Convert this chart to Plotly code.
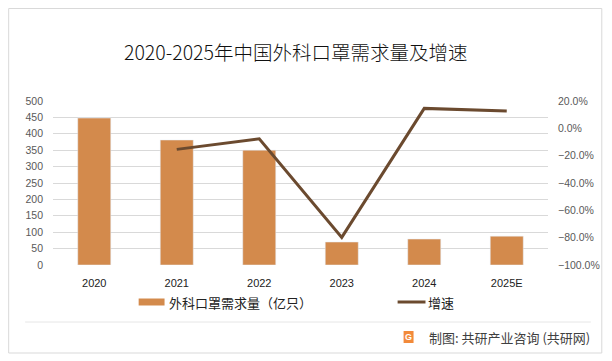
import plotly.graph_objects as go

years = ["2020", "2021", "2022", "2023", "2024", "2025E"]
demand = [448, 381, 350, 70, 79, 88]            # 亿只
growth = [None, -0.154, -0.076, -0.798, 0.146, 0.126]
left_ticks = [0, 50, 100, 150, 200, 250, 300, 350, 400, 450, 500]
right_ticks = [-1.0, -0.8, -0.6, -0.4, -0.2, 0.0, 0.2]

title_text = "2020-2025年中国外科口罩需求量及增速"
bar_name = "外科口罩需求量（亿只）"
line_name = "增速"
credit_text = "制图: 共研产业咨询 (共研网)"

BAR_C = "#D38A4C"
LINE_C = "#6B4A2F"
CJK = "Noto Sans CJK SC"
LAT = "Liberation Sans"

# page body has an 8px margin; work in page pixels and convert
OFF = 8
W, H = 612 - OFF, 361 - OFF
L, R, T, B = 53, 550, 101, 265  # plot area in page pixels


def px(x):
    return (x - L) / (R - L)


def py(y):
    return (B - y) / (B - T)


fig = go.Figure()
fig.add_trace(go.Bar(x=years, y=demand, name=bar_name, marker_color=BAR_C,
                     showlegend=False))
fig.add_trace(go.Scatter(x=years, y=growth, name=line_name, yaxis="y2",
                         mode="lines", line=dict(color=LINE_C, width=3),
                         showlegend=False))

shapes = [
    dict(type="rect", xref="paper", yref="paper", x0=px(8.5), x1=px(604),
         y0=py(353), y1=py(8.5), line=dict(color="#D9D9D9", width=1),
         fillcolor="rgba(0,0,0,0)", layer="below"),
    dict(type="line", xref="paper", yref="paper", x0=px(25), x1=px(593),
         y0=py(322), y1=py(322), line=dict(color="#E6E6E6", width=1)),
    dict(type="rect", xref="paper", yref="paper", x0=px(139), x1=px(165),
         y0=py(305.5), y1=py(298.5), line=dict(width=0), fillcolor=BAR_C),
    dict(type="line", xref="paper", yref="paper", x0=px(399), x1=px(427),
         y0=py(302), y1=py(302), line=dict(color=LINE_C, width=3)),
    dict(type="rect", xref="paper", yref="paper", x0=px(405), x1=px(415),
         y0=py(343), y1=py(331), line=dict(width=0), fillcolor="#F28A3A"),
]

annotations = [
    dict(text=title_text, xref="paper", yref="paper", x=px(296), y=py(52),
         showarrow=False, xanchor="center", yanchor="middle",
         font=dict(family=CJK, size=19.5, color="#111111", weight=300)),
    dict(text=bar_name, xref="paper", yref="paper", x=px(167), y=py(302),
         showarrow=False, xanchor="left", yanchor="middle",
         font=dict(family=CJK, size=13, color="#222222")),
    dict(text=line_name, xref="paper", yref="paper", x=px(428), y=py(302),
         showarrow=False, xanchor="left", yanchor="middle",
         font=dict(family=CJK, size=13, color="#222222")),
    dict(text=credit_text, xref="paper", yref="paper", x=px(594), y=py(337),
         showarrow=False, xanchor="right", yanchor="middle",
         font=dict(family=CJK, size=13, color="#404040")),
    dict(text="<b>G</b>", xref="paper", yref="paper", x=px(410), y=py(337),
         showarrow=False, xanchor="center", yanchor="middle",
         font=dict(family=LAT, size=9, color="#FFFFFF")),
]

fig.update_layout(
    width=W, height=H,
    margin=dict(l=L - OFF, r=W - (R - OFF), t=T - OFF, b=H - (B - OFF), pad=0),
    paper_bgcolor="white", plot_bgcolor="white",
    bargap=0.6,
    shapes=shapes, annotations=annotations,
    xaxis=dict(type="category", showgrid=False, showline=False, zeroline=False,
               ticks="", tickfont=dict(family=LAT, size=11, color="#222222"),
               ticklabelstandoff=10),
    yaxis=dict(range=[0, 500], tickvals=left_ticks, showgrid=True,
               gridcolor="#D9D9D9", gridwidth=1, zeroline=False,
               showline=False, ticks="",
               tickfont=dict(family=LAT, size=10.5, color="#595959"),
               ticklabelstandoff=9),
    yaxis2=dict(range=[-1.0, 0.2], tickvals=right_ticks, tickformat=".1%",
                overlaying="y", side="right", showgrid=False, zeroline=False,
                showline=False, ticks="",
                tickfont=dict(family=LAT, size=10.5, color="#595959"),
                ticklabelstandoff=9),
    showlegend=False,
)

fig.write_html("out.html")
